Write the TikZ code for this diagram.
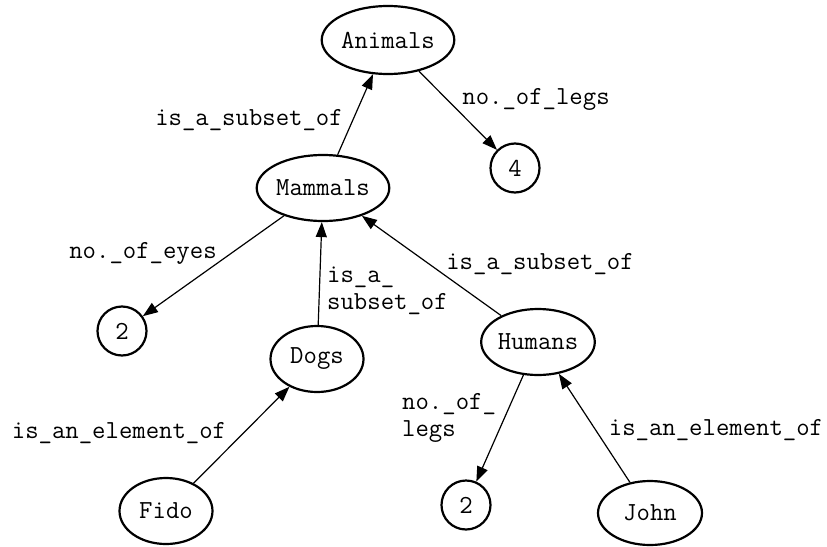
\documentclass[tikz,border=0pt]{standalone}
\usepackage{fontspec}
\usetikzlibrary{arrows.meta,shapes.geometric}
\begin{document}
\begin{tikzpicture}[x=1pt,y=-1pt,
  every node/.style={font=\ttfamily\fontsize{26}{26.5}\selectfont},
  ell/.style={draw,ellipse,line width=2.2pt,inner sep=0pt},
  circ/.style={draw,circle,line width=2.2pt,inner sep=0pt,minimum size=49pt},
  lab/.style={inner sep=0pt},
  conn/.style={line width=1.2pt,-{Triangle[length=15pt,width=11pt]}}]
\useasboundingbox (0,0) rectangle (827,546);
\node[ell,minimum width=130pt,minimum height=68pt] (animals) at (388,40) {Animals};
\node[circ] (four) at (515,168) {4};
\node[ell,minimum width=128pt,minimum height=66pt] (mammals) at (323,188) {Mammals};
\node[circ] (twoa) at (122,331) {2};
\node[ell,minimum width=93pt,minimum height=66pt] (dogs) at (317,359) {Dogs};
\node[ell,minimum width=105pt,minimum height=66pt] (humans) at (538,342) {Humans};
\node[ell,minimum width=93pt,minimum height=66pt] (fido) at (166,511) {Fido};
\node[circ] (twob) at (466,505) {2};
\node[ell,minimum width=104pt,minimum height=64pt] (john) at (650,513) {John};

\draw[conn] (mammals) -- (animals);
\draw[conn] (animals) -- (four);
\draw[conn] (mammals) -- (twoa);
\draw[conn] (dogs) -- (mammals);
\draw[conn] (humans) -- (mammals);
\draw[conn] (fido) -- (dogs);
\draw[conn] (humans) -- (twob);
\draw[conn] (john) -- (humans);

\node[lab] (l1) at (249,120) {is\_a\_subset\_of};
\node[lab] (l2) at (536,99) {no.\_of\_legs};
\node[lab] (l3) at (143,253) {no.\_of\_eyes};
\node[lab,anchor=west,align=left] (l4) at (327,291) {is\_a\_\\subset\_of};
\node[lab] (l5) at (540,264) {is\_a\_subset\_of};
\node[lab] (l6) at (119,433) {is\_an\_element\_of};
\node[lab,anchor=west,align=left] (l7) at (402,418) {no.\_of\_\\legs};
\node[lab] (l8) at (716,430) {is\_an\_element\_of};
\end{tikzpicture}
\end{document}
